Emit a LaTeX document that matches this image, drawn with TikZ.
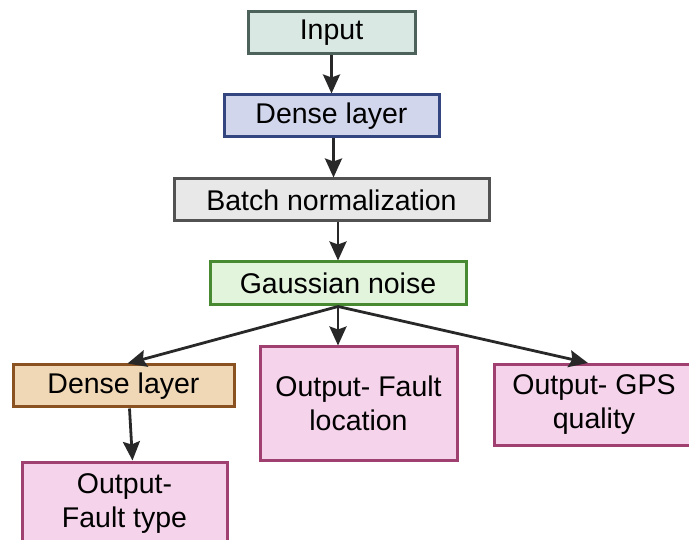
\documentclass[tikz,border=0pt]{standalone}
\usepackage{fontspec}
\setmainfont{Liberation Sans}
\usetikzlibrary{positioning, arrows.meta, calc}
\definecolor{inputfill}{RGB}{218,232,228}
\definecolor{inputline}{RGB}{78,98,92}
\definecolor{densefill}{RGB}{209,214,236}
\definecolor{denseline}{RGB}{52,70,128}
\definecolor{batchfill}{RGB}{232,232,232}
\definecolor{batchline}{RGB}{82,82,82}
\definecolor{noisefill}{RGB}{226,244,220}
\definecolor{noiseline}{RGB}{72,138,50}
\definecolor{hiddenfill}{RGB}{240,216,182}
\definecolor{hiddenline}{RGB}{138,82,32}
\definecolor{outfill}{RGB}{245,212,235}
\definecolor{outline}{RGB}{160,64,112}
\definecolor{arrowgray}{RGB}{40,40,40}

\begin{document}
\begin{tikzpicture}[x=1pt, y=-1pt, ->, >={Stealth[length=19pt, width=17pt, inset=3pt]},
            line width=2.8pt, draw=arrowgray,
            box/.style={draw, rectangle, line width=3pt, inner sep=0pt,
            minimum height=42pt, align=center,
            font=\fontsize{28.5}{34}\selectfont}]
          \useasboundingbox (0,0) rectangle (689,540);
          \node[box, fill=inputfill, draw=inputline, minimum width=167pt] (in) at (331.5,32.5) {Input};
          \node[box, fill=densefill, draw=denseline, minimum width=215pt] (dense) at (331.5,116) {Dense layer};
          \node[box, fill=batchfill, draw=batchline, minimum width=315pt] (batch) at (331.5,200) {Batch normalization};
          \node[box, fill=noisefill, draw=noiseline, minimum width=256pt, minimum height=43pt] (noise) at (338,283.5) {Gaussian noise};
          \node[box, fill=hiddenfill, draw=hiddenline, minimum width=221pt] (dense2) at (123.5,386) {Dense layer};
          \node[box, fill=outfill, draw=outline, minimum width=197pt, minimum height=113pt] (loc) at (358.5,403.5) {Output- Fault\\location};
          \node[box, fill=outfill, draw=outline, minimum width=200pt, minimum height=81pt] (gps) at (594,405) {Output- GPS\\quality};
          \node[box, fill=outfill, draw=outline, minimum width=205pt, minimum height=83pt] (type) at (124.5,503.5) {Output-\\Fault type};
          \draw (in) -- (dense);
          \draw ([xshift=2pt]dense.south) -- ([xshift=2pt]batch.north);
          \draw (batch.south -| noise) -- (noise);
          \draw (noise.south) -- ([xshift=4pt]dense2.north);
          \draw (noise.south) -- (loc.north -| noise.south);
          \draw (noise.south) -- ([xshift=-6pt]gps.north);
          \draw ([xshift=6pt]dense2.south) -- ([xshift=8pt]type.north);
        \end{tikzpicture}
\end{document}
